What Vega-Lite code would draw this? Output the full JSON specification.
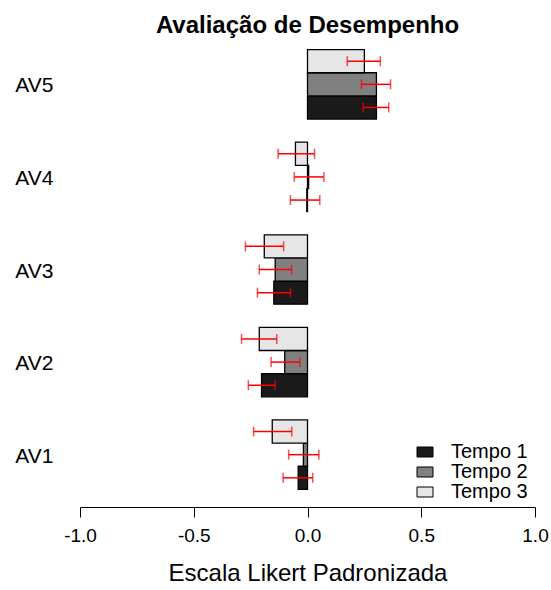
{
  "$schema": "https://vega.github.io/schema/vega-lite/v6.json",
  "width": 455,
  "height": 475,
  "autosize": "none",
  "padding": {"left": 80, "top": 32, "right": 16, "bottom": 83},
  "title": {"text": "Avaliação de Desempenho", "font": "Liberation Sans", "fontSize": 24, "fontWeight": "bold", "anchor": "middle", "offset": -6, "color": "black"},
  "config": {"view": {"stroke": null}, "font": "Liberation Sans"},
  "data": {"values": [
    {"cat": "AV5", "tempo": "Tempo 1", "mean": 0.303, "lo": 0.245, "hi": 0.357},
    {"cat": "AV5", "tempo": "Tempo 2", "mean": 0.303, "lo": 0.237, "hi": 0.365},
    {"cat": "AV5", "tempo": "Tempo 3", "mean": 0.25, "lo": 0.175, "hi": 0.32},
    {"cat": "AV4", "tempo": "Tempo 1", "mean": -0.003, "lo": -0.075, "hi": 0.054},
    {"cat": "AV4", "tempo": "Tempo 2", "mean": 0.005, "lo": -0.058, "hi": 0.072},
    {"cat": "AV4", "tempo": "Tempo 3", "mean": -0.053, "lo": -0.129, "hi": 0.031},
    {"cat": "AV3", "tempo": "Tempo 1", "mean": -0.148, "lo": -0.22, "hi": -0.075},
    {"cat": "AV3", "tempo": "Tempo 2", "mean": -0.142, "lo": -0.212, "hi": -0.07},
    {"cat": "AV3", "tempo": "Tempo 3", "mean": -0.19, "lo": -0.273, "hi": -0.105},
    {"cat": "AV2", "tempo": "Tempo 1", "mean": -0.202, "lo": -0.26, "hi": -0.142},
    {"cat": "AV2", "tempo": "Tempo 2", "mean": -0.1, "lo": -0.16, "hi": -0.034},
    {"cat": "AV2", "tempo": "Tempo 3", "mean": -0.212, "lo": -0.29, "hi": -0.135},
    {"cat": "AV1", "tempo": "Tempo 1", "mean": -0.041, "lo": -0.107, "hi": 0.023},
    {"cat": "AV1", "tempo": "Tempo 2", "mean": -0.018, "lo": -0.083, "hi": 0.05},
    {"cat": "AV1", "tempo": "Tempo 3", "mean": -0.155, "lo": -0.237, "hi": -0.069}
  ]},
  "encoding": {
    "y": {"field": "cat", "type": "nominal",
      "scale": {"domain": ["AV5", "AV4", "AV3", "AV2", "AV1"], "paddingInner": 0.25, "paddingOuter": 0.19},
      "axis": {"title": null, "domain": false, "ticks": false, "labelFontSize": 21, "labelPadding": 27, "labelOffset": 2, "labelColor": "black", "labelAlign": "right", "labelFont": "Liberation Sans"}},
    "yOffset": {"field": "tempo", "type": "nominal", "scale": {"domain": ["Tempo 3", "Tempo 2", "Tempo 1"], "paddingInner": 0, "paddingOuter": 0}}
  },
  "layer": [
    {
      "mark": {"type": "bar", "stroke": "black", "strokeWidth": 1.3, "opacity": 1},
      "encoding": {
        "x": {"field": "mean", "type": "quantitative",
          "scale": {"domain": [-1, 1], "nice": false, "zero": false},
          "axis": {"title": "Escala Likert Padronizada", "titleFontSize": 24, "titleFontWeight": "normal", "titleColor": "black", "titlePadding": 16, "titleFont": "Liberation Sans",
            "values": [-1, -0.5, 0, 0.5, 1], "labelExpr": "replace(format(datum.value, '.1f'), '\u2212', '-')",
            "labelFontSize": 19, "labelColor": "black", "labelPadding": 9, "labelFont": "Liberation Sans", "tickSize": 10, "tickColor": "black", "domainColor": "black", "tickWidth": 1, "domainWidth": 1, "grid": false, "labelFlush": false}},
        "color": {"field": "tempo", "type": "nominal",
          "scale": {"domain": ["Tempo 1", "Tempo 2", "Tempo 3"], "range": ["#1a1a1a", "#808080", "#e6e6e6"]},
          "legend": {"title": null, "orient": "none", "legendX": 335, "legendY": 410, "symbolType": "M-1,-0.625L1,-0.625L1,0.625L-1,0.625Z", "symbolSize": 256, "symbolStrokeColor": "black", "symbolStrokeWidth": 1, "symbolOpacity": 1, "labelFontSize": 20, "labelColor": "black", "labelFont": "Liberation Sans", "labelOffset": 16, "rowPadding": 0}}
      }
    },
    {
      "mark": {"type": "rule", "color": "red", "strokeWidth": 1.5},
      "encoding": {"x": {"field": "lo", "type": "quantitative"}, "x2": {"field": "hi"}}
    },
    {
      "mark": {"type": "tick", "color": "red", "thickness": 1.5, "size": 10, "orient": "vertical"},
      "encoding": {"x": {"field": "lo", "type": "quantitative"}}
    },
    {
      "mark": {"type": "tick", "color": "red", "thickness": 1.5, "size": 10, "orient": "vertical"},
      "encoding": {"x": {"field": "hi", "type": "quantitative"}}
    }
  ]
}
